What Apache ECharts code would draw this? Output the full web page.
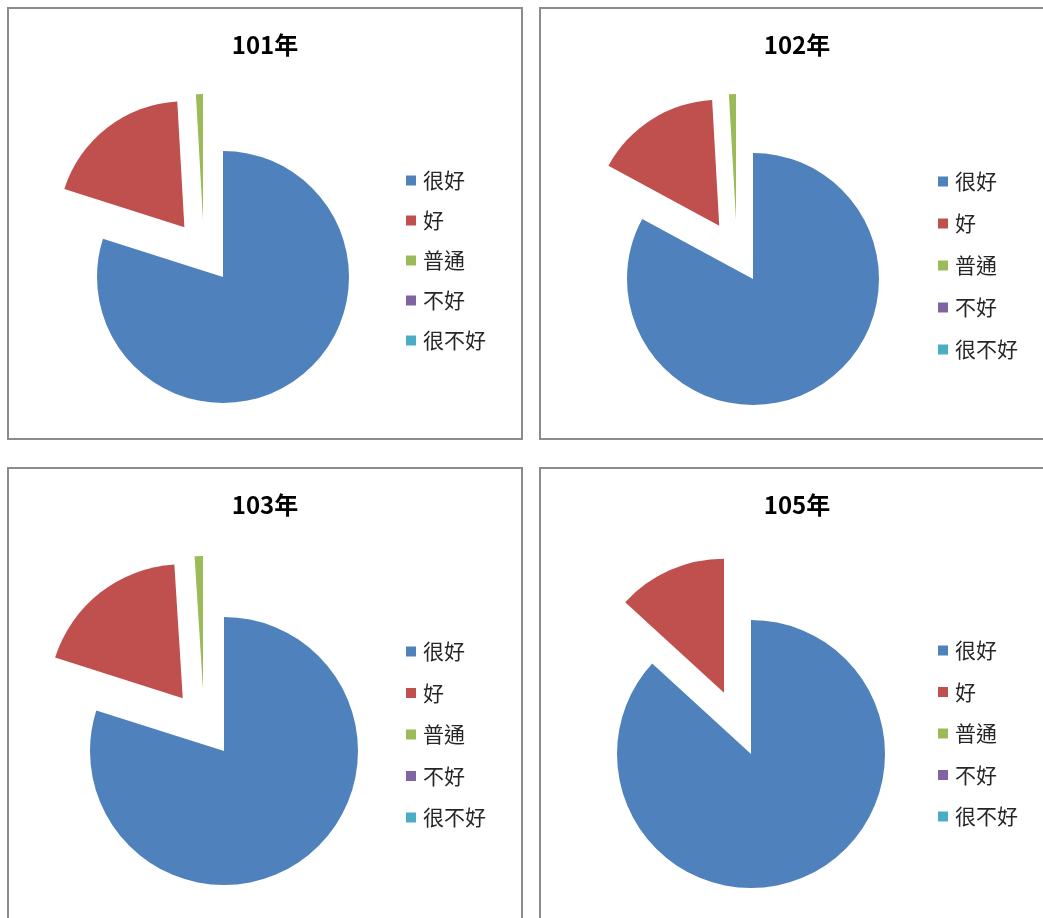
<!DOCTYPE html>
<html>
<head>
<meta charset="utf-8">
<script src="https://cdn.jsdelivr.net/npm/echarts@6/dist/echarts.min.js"></script>
<style>
  html, body { margin: 0; padding: 0; background: #fff; }
  body { width: 1043px; height: 918px; position: relative; overflow: hidden; }
  .chart { position: absolute; }
  .frame { position: absolute; border: 2px solid #8c8c8c; box-sizing: border-box; pointer-events: none; }
</style>
</head>
<body>
<div id="c1" class="chart" style="left:8px;top:8px;width:514px;height:431px"></div>
<div id="c2" class="chart" style="left:540px;top:8px;width:514px;height:431px"></div>
<div id="c3" class="chart" style="left:8px;top:468px;width:514px;height:470px"></div>
<div id="c4" class="chart" style="left:540px;top:468px;width:514px;height:470px"></div>
<div class="frame" style="left:7px;top:7px;width:516px;height:433px"></div>
<div class="frame" style="left:539px;top:7px;width:516px;height:433px"></div>
<div class="frame" style="left:7px;top:467px;width:516px;height:480px"></div>
<div class="frame" style="left:539px;top:467px;width:516px;height:480px"></div>
<script>
// rating categories (legend order)
const categories = ['很好', '好', '普通', '不好', '很不好'];
const titles = ['101年', '102年', '103年', '105年'];

// share of each rating, percent
const values101 = [79.9, 19.2, 0.9, 0, 0];
const values102 = [82.9, 16.2, 0.9, 0, 0];
const values103 = [79.9, 19.1, 1.0, 0, 0];
const values105 = [86.8, 13.2, 0, 0, 0];

const COLORS = ['#4F81BD', '#C0504D', '#9BBB59', '#8064A2', '#4BACC6'];
// slice pulled out radially (好)
const EXPLODED = [false, true, false, false, false];
// slice drawn by its own pie with a shifted centre (普通)
const DETACHED = 2;

const FONT = '"Noto Sans CJK TC", "Noto Sans", sans-serif';

const pieBase = (layout) => ({
  type: 'pie',
  radius: layout.radius,
  startAngle: 90,
  clockwise: true,
  label: { show: false },
  labelLine: { show: false },
  emphasis: { disabled: true },
  itemStyle: { borderWidth: 0 },
  select: { itemStyle: { borderWidth: 0 } },
});

const buildOption = (title, values, layout) => ({
  animation: false,
  title: {
    text: title,
    left: 'center',
    top: 25,
    padding: 0,
    textStyle: {
      fontFamily: FONT,
      fontSize: 24,
      fontWeight: 'bold',
      color: '#000',
    },
  },
  legend: {
    orient: 'vertical',
    left: 393,
    top: layout.legendTop,
    itemWidth: 10,
    itemHeight: 10,
    itemGap: layout.legendGap,
    icon: 'rect',
    selectedMode: false,
    data: categories.map((name, i) => ({ name, itemStyle: { color: COLORS[i], opacity: 1 } })),
    textStyle: {
      fontFamily: FONT,
      fontSize: 21,
      lineHeight: 20,
      color: '#262626',
      padding: [0, 0, 0, 2],
    },
  },
  series: [
    {
      ...pieBase(layout),
      center: layout.center,
      selectedMode: 'multiple',
      selectedOffset: layout.offset,
      data: categories.map((name, i) => ({
        name,
        value: values[i],
        selected: EXPLODED[i],
        itemStyle: { color: COLORS[i], opacity: i === DETACHED ? 0 : 1 },
      })),
    },
    {
      ...pieBase(layout),
      center: [layout.center[0] + layout.shift[0], layout.center[1] + layout.shift[1]],
      data: categories.map((name, i) => ({
        name,
        value: values[i],
        itemStyle: { color: COLORS[i], opacity: i === DETACHED ? 1 : 0 },
      })),
    },
  ],
});

const panels = [
  { id: 'c1', title: titles[0], values: values101, layout: { center: [215, 269], radius: 126, offset: 63, shift: [-20, -57], legendTop: 157, legendGap: 19 } },
  { id: 'c2', title: titles[1], values: values102, layout: { center: [213, 271], radius: 126, offset: 63, shift: [-17, -59], legendTop: 158, legendGap: 21 } },
  { id: 'c3', title: titles[2], values: values103, layout: { center: [216, 283], radius: 134, offset: 67, shift: [-21, -61], legendTop: 168, legendGap: 20.5 } },
  { id: 'c4', title: titles[3], values: values105, layout: { center: [211, 286], radius: 134, offset: 67, shift: [-21, -61], legendTop: 167, legendGap: 20.5 } },
];

panels.forEach((p) => {
  const chart = echarts.init(document.getElementById(p.id), null, { renderer: 'canvas' });
  chart.setOption(buildOption(p.title, p.values, p.layout));
});
</script>
</body>
</html>
